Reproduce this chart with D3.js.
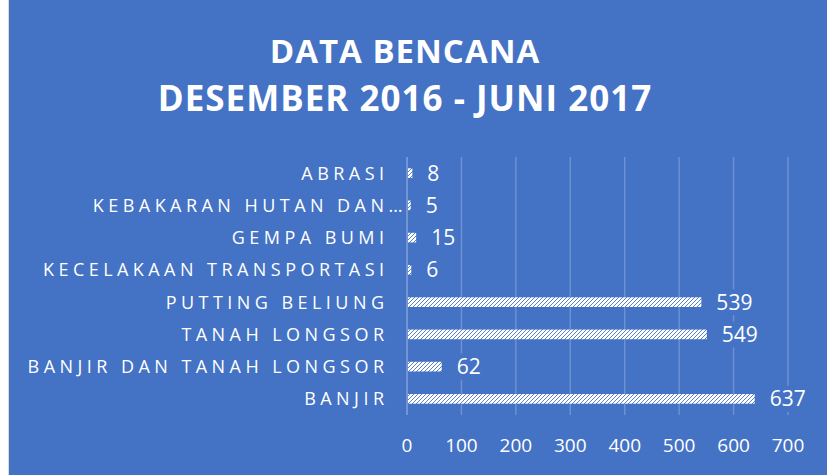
<!DOCTYPE html>
<html>
<head>
<meta charset="utf-8">
<script src="https://cdn.jsdelivr.net/npm/d3@7"></script>
<style>
  body { margin: 0; background: #fff; }
  svg { display: block; }
</style>
</head>
<body>
<div class="graph"></div>
<script>
// data, top row first
var categories = ["ABRASI", "KEBAKARAN HUTAN DAN…", "GEMPA BUMI", "KECELAKAAN TRANSPORTASI",
    "PUTTING BELIUNG", "TANAH LONGSOR", "BANJIR DAN TANAH LONGSOR", "BANJIR"];
var amounts = [8, 5, 15, 6, 539, 549, 62, 637];
var xTicks = [0, 100, 200, 300, 400, 500, 600, 700];
var titleLines = ["DATA BENCANA", "DESEMBER 2016 - JUNI 2017"];

var W = 827, H = 475;
var blue = "#4472C4";
var font = "'Open Sans', sans-serif";

var svg = d3.select(".graph").append("svg")
    .attr("width", W)
    .attr("height", H);

// hatch pattern for bars (wide upward diagonal)
var pat = svg.append("defs").append("pattern")
    .attr("id", "hatch")
    .attr("patternUnits", "userSpaceOnUse")
    .attr("width", 4)
    .attr("height", 4);
pat.append("rect").attr("width", 4).attr("height", 4).attr("fill", "#fff");
pat.append("path")
    .attr("d", "M-1,1 l2,-2 M0,4 l4,-4 M3,5 l2,-2")
    .attr("stroke", blue)
    .attr("stroke-width", 0.9);

svg.append("rect")
    .attr("x", 8).attr("y", 0)
    .attr("width", W - 8).attr("height", H)
    .attr("fill", blue);
svg.append("line")
    .attr("x1", 8.5).attr("x2", 8.5).attr("y1", 0).attr("y2", H)
    .attr("stroke", "#d9d9d9");

var x = d3.scaleLinear().domain([0, 700]).range([407, 788]);
var y = d3.scaleBand().domain(categories).range([157, 415])
    .paddingInner(0.7).paddingOuter(0.35);

// title
svg.selectAll(".title")
    .data(titleLines)
    .enter().append("text")
    .attr("class", "title")
    .attr("x", 405)
    .attr("y", function (d, i) { return 63 + i * 48; })
    .attr("text-anchor", "middle")
    .style("font-family", font)
    .style("font-weight", "bold")
    .style("font-size", function (d, i) { return i == 0 ? "33px" : "35px"; })
    .style("letter-spacing", "1px")
    .style("fill", "#fff")
    .text(function (d) { return d; });

// grid
svg.selectAll(".grid")
    .data(xTicks.slice(1))
    .enter().append("line")
    .attr("class", "grid")
    .attr("x1", function (d) { return x(d); })
    .attr("x2", function (d) { return x(d); })
    .attr("y1", 157).attr("y2", 415)
    .attr("stroke", "rgba(255,255,255,0.22)")
    .attr("stroke-width", 1.5);

svg.append("line")
    .attr("x1", x(0)).attr("x2", x(0))
    .attr("y1", 157).attr("y2", 415)
    .attr("stroke", "rgba(255,255,255,0.5)")
    .attr("stroke-width", 1);

// bars
svg.selectAll(".graphbar")
    .data(amounts)
    .enter().append("rect")
    .attr("class", "graphbar")
    .attr("x", x(0) + 1)
    .attr("y", function (d, i) { return y(categories[i]); })
    .attr("width", function (d) { return x(d) - x(0); })
    .attr("height", y.bandwidth())
    .attr("fill", "url(#hatch)");

// data labels with blue box behind
var lab = svg.selectAll(".lab")
    .data(amounts)
    .enter().append("g")
    .attr("class", "lab")
    .attr("transform", function (d, i) {
        return "translate(" + (x(d) + 16) + "," + (y(categories[i]) + y.bandwidth() / 2) + ")";
    });
lab.append("rect")
    .attr("x", -4).attr("y", -13)
    .attr("height", 26)
    .attr("width", function (d) { return String(d).length * 12 + 8; })
    .attr("fill", blue);
lab.append("text")
    .attr("dy", "0.36em")
    .style("font-family", font)
    .style("font-size", "21px")
    .style("fill", "#fff")
    .text(function (d) { return d; });

// category labels
var sp = 4.45;
var cat = svg.selectAll(".cat")
    .data(categories)
    .enter().append("text")
    .attr("class", "cat")
    .attr("x", 384 + sp)
    .attr("y", function (d) { return y(d) + y.bandwidth() / 2; })
    .attr("dy", "0.36em")
    .attr("text-anchor", "end")
    .style("font-family", font)
    .style("font-size", "18px")
    .style("letter-spacing", sp + "px")
    .style("fill", "#fff")
    .text(function (d) { return d.replace("…", ""); });

// truncated label: ellipsis hangs past the right edge
cat.filter(function (d) { return d.indexOf("…") >= 0; })
    .each(function () {
        var t = d3.select(this);
        var ts = t.append("tspan").style("letter-spacing", "0px").text("…");
        t.attr("x", 384 + sp + ts.node().getComputedTextLength());
    });

// x tick labels
svg.selectAll(".tick")
    .data(xTicks)
    .enter().append("text")
    .attr("class", "tick")
    .attr("x", function (d) { return x(d); })
    .attr("y", 452)
    .attr("text-anchor", "middle")
    .style("font-family", font)
    .style("font-size", "19px")
    .style("fill", "#fff")
    .text(function (d) { return d; });
</script>
</body>
</html>
